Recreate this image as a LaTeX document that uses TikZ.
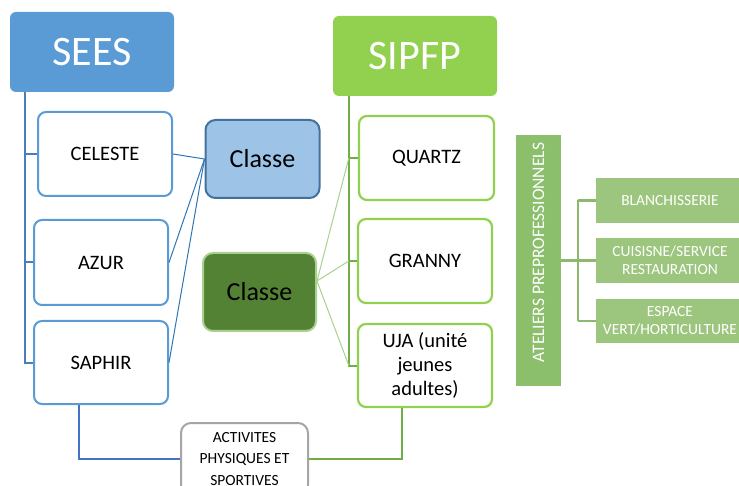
\documentclass[tikz,border=0pt]{standalone}
\usepackage{fontspec}
\setmainfont{Carlito}
\usetikzlibrary{calc}
\definecolor{seesfill}{HTML}{5B9BD5}
\definecolor{bluetrunkc}{HTML}{4A7EBB}
\definecolor{blueborder}{HTML}{5B9BD5}
\definecolor{classeBfill}{HTML}{9DC3E6}
\definecolor{classeBline}{HTML}{41719C}
\definecolor{bluethin}{HTML}{2E75B6}
\definecolor{classeGfill}{HTML}{548235}
\definecolor{classeGline}{HTML}{A9D18E}
\definecolor{sipfpfill}{HTML}{92D050}
\definecolor{greentrunkc}{HTML}{70AD47}
\definecolor{greenborder}{HTML}{92D050}
\definecolor{grayborder}{HTML}{A5A5A5}
\definecolor{atelfill}{HTML}{8CBF6C}
\definecolor{atboxfill}{HTML}{9CC57E}
\definecolor{bracketc}{HTML}{8DB96E}
\definecolor{bluebottom}{HTML}{4472C4}
\begin{document}
\begin{tikzpicture}[x=1pt,y=-1pt,
  headbox/.style={rectangle,rounded corners=6pt,inner sep=0pt,text=white,
    font=\fontsize{42}{50}\selectfont,minimum width=164pt,minimum height=80pt},
  bluebox/.style={rectangle,rounded corners=8pt,draw=blueborder,line width=2pt,fill=white,
    inner sep=0pt,font=\fontsize{20.5}{25}\selectfont,minimum width=134pt,minimum height=84pt},
  greenbox/.style={rectangle,rounded corners=8pt,draw=greenborder,line width=2.2pt,fill=white,
    inner sep=0pt,align=center,font=\fontsize{20.5}{24}\selectfont,minimum width=134pt,minimum height=84pt},
  classebox/.style={rectangle,rounded corners=10pt,line width=2pt,inner sep=0pt,
    font=\fontsize{26}{30}\selectfont,minimum width=114pt,minimum height=78pt},
  atbox/.style={rectangle,fill=atboxfill,inner sep=0pt,text=white,align=center,
    font=\fontsize{15.5}{18}\selectfont,minimum width=148pt,minimum height=45pt},
  bluetrunk/.style={draw=bluetrunkc,line width=2pt},
  greentrunk/.style={draw=greentrunkc,line width=2pt},
  bluethinline/.style={draw=bluethin,line width=1pt},
  greenthinline/.style={draw=classeGline,line width=1pt},
  bracketline/.style={draw=bracketc,line width=2.5pt}
]
\useasboundingbox (0,0) rectangle (739,486);
\clip (0,0) rectangle (739,486);

% head boxes
\node[headbox,fill=seesfill] (sees) at (92,52) {SEES};
\node[headbox,fill=sipfpfill] (sipfp) at (415,56) {SIPFP};

% SEES children
\node[bluebox] (celeste) at (105,154) {CELESTE};
\node[bluebox,minimum height=85pt] (azur) at (101,262.5) {AZUR};
\node[bluebox,minimum height=83pt] (saphir) at (101,362.5) {SAPHIR};

% classe boxes
\node[classebox,fill=classeBfill,draw=classeBline] (classeB) at (262.5,159) {Classe};
\node[classebox,fill=classeGfill,draw=classeGline,minimum width=113pt] (classeG) at (259.5,292) {Classe};

% SIPFP children
\node[greenbox,minimum width=135pt] (quartz) at (426.5,158) {QUARTZ};
\node[greenbox] (granny) at (425,261) {GRANNY};
\node[greenbox,minimum height=83pt] (uja) at (425,365.5) {UJA (unité\\jeunes\\adultes)};

% activites
\node[rectangle,rounded corners=10pt,draw=grayborder,line width=2pt,fill=white,inner sep=0pt,
  align=center,font=\fontsize{15.5}{21.5}\selectfont,minimum width=127pt,minimum height=72pt]
  (act) at (244.5,459) {ACTIVITES\\PHYSIQUES ET\\SPORTIVES};

% ateliers
\node[rectangle,fill=atelfill,inner sep=0pt,minimum width=45pt,minimum height=251pt] (atel) at (538.5,260.5) {};
\node[rotate=90,text=white,font=\fontsize{17.5}{20}\selectfont,inner sep=0pt] (ateltext) at ([yshift=8pt]atel.center) {ATELIERS PREPROFESSIONNELS};
\node[atbox] (blan) at (670,200.5) {BLANCHISSERIE};
\node[atbox] (cuis) at (670,260.5) {CUISISNE/SERVICE\\RESTAURATION};
\node[atbox,minimum height=44pt] (esp) at (670,321) {ESPACE\\VERT/HORTICULTURE};

% SEES trunk
\coordinate (seesL) at ($(sees.south west)+(15,0)$);
\draw[bluetrunk] (seesL) -- (seesL |- saphir.west) -- (saphir.west);
\draw[bluetrunk] (seesL |- celeste.west) -- (celeste.west);
\draw[bluetrunk] (seesL |- azur.west) -- (azur.west);

% blue thin lines
\draw[bluethinline] (celeste.east) -- (classeB.west);
\draw[bluethinline] (classeB.west) -- (azur.east);
\draw[bluethinline] (classeB.west) -- (saphir.east);

% SIPFP trunk
\coordinate (sipfpL) at ($(sipfp.south west)+(16,0)$);
\draw[greentrunk] (sipfpL) -- (sipfpL |- uja.west) -- (uja.west);
\draw[greentrunk] (sipfpL |- quartz.west) -- (quartz.west);
\draw[greentrunk] (sipfpL |- granny.west) -- (granny.west);

% green thin lines
\coordinate (cgE) at ([yshift=11pt]classeG.east);
\draw[greenthinline] (cgE) -- (sipfpL |- quartz.west);
\draw[greenthinline] (cgE) -- (sipfpL |- granny.west);
\draw[greenthinline] (cgE) -- (sipfpL |- uja.west);

% bottom connectors
\draw[draw=bluebottom,line width=2.5pt] ([xshift=-22pt]saphir.south) |- (act.west);
\draw[draw=greentrunkc,line width=2.5pt] (act.east) -| ([xshift=-23pt]uja.south);

% bracket
\coordinate (bk) at (578,260.5);
\draw[bracketline] (atel.east) -- (cuis.west);
\draw[bracketline] (bk |- blan.west) -- (bk |- esp.west);
\draw[bracketline] (bk |- blan.west) -- (blan.west);
\draw[bracketline] (bk |- esp.west) -- (esp.west);
\end{tikzpicture}
\end{document}
